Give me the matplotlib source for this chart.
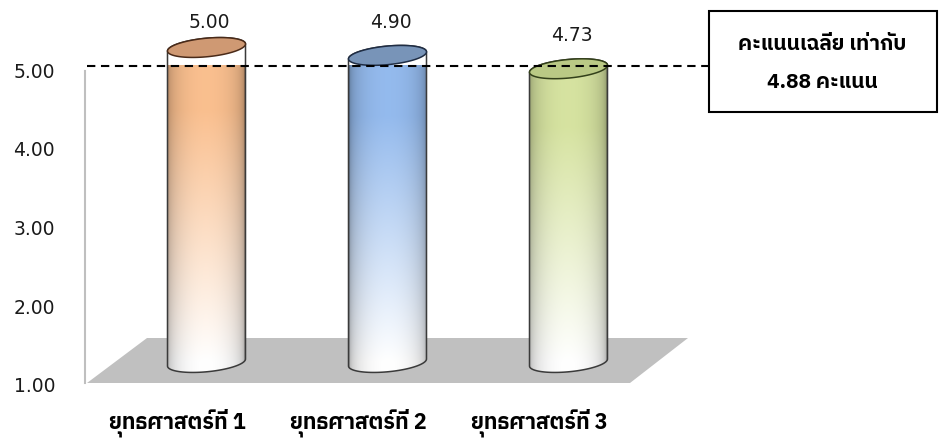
import numpy as np
import matplotlib
matplotlib.use('Agg')
import matplotlib.pyplot as plt
from matplotlib import font_manager
from matplotlib.ft2font import FT2Font
from matplotlib.path import Path
from matplotlib.patches import PathPatch, Polygon, Rectangle
from matplotlib.transforms import IdentityTransform, offset_copy, ScaledTranslation

# Data
categories = ['ยุทธศาสตร์ที่ 1', 'ยุทธศาสตร์ที่ 2', 'ยุทธศาสตร์ที่ 3']
scores = [5.00, 4.90, 4.73]
mean_score = 4.88
ref_line = 5.00
y_ticks = [1, 2, 3, 4, 5]
y_tick_labels = ['1.00', '2.00', '3.00', '4.00', '5.00']
box_title = 'คะแนนเฉลี่ย เท่ากับ'
box_unit = 'คะแนน'

# Bar colours (top colour, cap colour, cap edge)
bar_colors = [(0.98, 0.75, 0.56), (0.58, 0.73, 0.93), (0.84, 0.89, 0.63)]
cap_colors = [(0.81, 0.60, 0.45), (0.47, 0.58, 0.72), (0.73, 0.79, 0.52)]
cap_edges = ['#4a2a18', '#1f2d44', '#33401a']


# find an installed font that has Thai glyphs
def find_thai_font():
    found = []
    for f in font_manager.fontManager.ttflist:
        try:
            if 0x0E01 in FT2Font(f.fname).get_charmap():
                found.append(f.name)
        except Exception:
            pass
    found.sort(key=lambda n: (0 if 'Sans' in n else 1, n))
    return found[0] if found else None


thai = find_thai_font()
thai_family = [thai, 'DejaVu Sans'] if thai else ['DejaVu Sans']
plt.rcParams['font.family'] = ['DejaVu Sans']

W, H = 947, 439
fig = plt.figure(figsize=(W / 100, H / 100), dpi=100)
ax = fig.add_axes([87 / W, 57 / H, 543 / W, 315 / H])
ax.set_xlim(-0.5, 2.5)
ax.set_ylim(1, 5)
for s in ax.spines.values():
    s.set_visible(False)

# depth offsets in pixels (floor back edge, bar centre depth)
floor_dx, floor_dy = 60, 45
bar_dx, bar_dy = 29, 18.5
half_w, half_h, shear = 39.0, 9.3, 0.09

# floor
fl = ax.transData.transform((-0.5, 1))
fr = ax.transData.transform((2.5, 1))
floor = Polygon([(fl[0], fl[1] - 2), (fr[0], fr[1] - 2),
                 (fr[0] + floor_dx - 2, fr[1] - 2 + floor_dy),
                 (fl[0] + floor_dx, fl[1] - 2 + floor_dy)],
                closed=True, transform=IdentityTransform(),
                facecolor='#c0c0c0', edgecolor='none', zorder=1, clip_on=False)
ax.add_patch(floor)

# left vertical line
ax.plot([-0.5, -0.5], [1, 4.96], color='#bfbfbf', lw=1.5, clip_on=False,
        zorder=0, transform=offset_copy(ax.transData, fig=fig, x=-2, y=-2, units='dots'))


def ellipse_pts(cx, cy, t):
    return np.column_stack([cx + half_w * np.cos(t),
                            cy + half_h * np.sin(t) + half_w * shear * np.cos(t)])


inv = ax.transData.inverted()
for i, v in enumerate(scores):
    x0, y0 = ax.transData.transform((i, 1.0))
    _, y1 = ax.transData.transform((i, v))
    cx = x0 + bar_dx
    yb = y0 + bar_dy
    yt = y1 + bar_dy

    top_half = ellipse_pts(cx, yt, np.linspace(np.pi, 0, 60))
    bot_half = ellipse_pts(cx, yb, np.linspace(0, -np.pi, 60))
    verts = np.vstack([top_half, bot_half, top_half[:1]])
    codes = [Path.MOVETO] + [Path.LINETO] * (len(verts) - 2) + [Path.CLOSEPOLY]
    body = PathPatch(Path(verts, codes), transform=IdentityTransform(),
                     facecolor='none', edgecolor='#3a3a3a', lw=1.1, zorder=4,
                     clip_on=False)
    ax.add_patch(body)

    # gradient fill for the body
    ext_y = np.hypot(half_h, half_w * shear)
    px0, px1 = cx - half_w, cx + half_w
    py0, py1 = yb - ext_y - 1, yt + ext_y + 1
    nu, nv = 120, 300
    u = np.linspace(-1, 1, nu)
    yy = np.linspace(py0, py1, nv)
    frac = np.clip((yy - yb) / (yt - yb) / 0.8, 0, 1)
    base = np.array(bar_colors[i])
    col = (1 - frac)[:, None, None] * np.ones(3) + frac[:, None, None] * base
    shade = 0.55 + 0.45 * (1 - u ** 2) ** 0.3
    img = np.clip(col * shade[None, :, None], 0, 1)
    d0 = inv.transform((px0, py0))
    d1 = inv.transform((px1, py1))
    im = ax.imshow(img, extent=(d0[0], d1[0], d0[1], d1[1]), origin='lower',
                   aspect='auto', interpolation='bilinear', zorder=3)
    im.set_clip_box(None)
    im.set_clip_path(body)

    # top cap
    cap = ellipse_pts(cx, yt, np.linspace(0, 2 * np.pi, 120))
    ax.add_patch(Polygon(cap, closed=True, transform=IdentityTransform(),
                         facecolor=cap_colors[i], edgecolor=cap_edges[i],
                         lw=1.1, zorder=5, clip_on=False))

    # value label
    ax.text(i, min(v + 0.67, 5.57), f'{v:.2f}', ha='center', va='center',
            fontsize=13.5, color='#1a1a1a', clip_on=False,
            transform=offset_copy(ax.transData, fig=fig, x=bar_dx + 3, y=0, units='dots'))

ax.set_xlim(-0.5, 2.5)
ax.set_ylim(1, 5)

# reference dashed line up to the box
box_x = inv.transform((709, 0))[0]
ax.plot([-0.5, box_x], [ref_line, ref_line], color='black', lw=1.5,
        linestyle=(0, (4, 2.7)), clip_on=False, zorder=10)

ax.set_yticks(y_ticks, y_tick_labels)
ax.set_xticks(range(len(categories)), categories)
ax.tick_params(axis='y', length=0, pad=23, labelsize=13.5, labelcolor='#1a1a1a')
ax.tick_params(axis='x', length=0, pad=19, labelsize=15.5)
for lab in ax.get_xticklabels():
    lab.set_family(thai_family)
    lab.set_fontweight('bold')
for lab in ax.get_yticklabels():
    lab.set_va('center_baseline')
    lab.set_transform(lab.get_transform() + ScaledTranslation(0, -3 / 100, fig.dpi_scale_trans))

# mean score box
fig.add_artist(Rectangle((709 / W, 1 - 113 / H), 228 / W, 101 / H,
                         transform=fig.transFigure, fill=False,
                         edgecolor='black', lw=1.5))
fig.text(822 / W, 1 - 45 / H, box_title, ha='center', va='center',
         fontsize=15, fontweight='bold', family=thai_family)
fig.text(822 / W, 1 - 83 / H, f'{mean_score:.2f} {box_unit}', ha='center',
         va='center', fontsize=15, fontweight='bold', family=thai_family)

fig.savefig('out.png', dpi=100)
